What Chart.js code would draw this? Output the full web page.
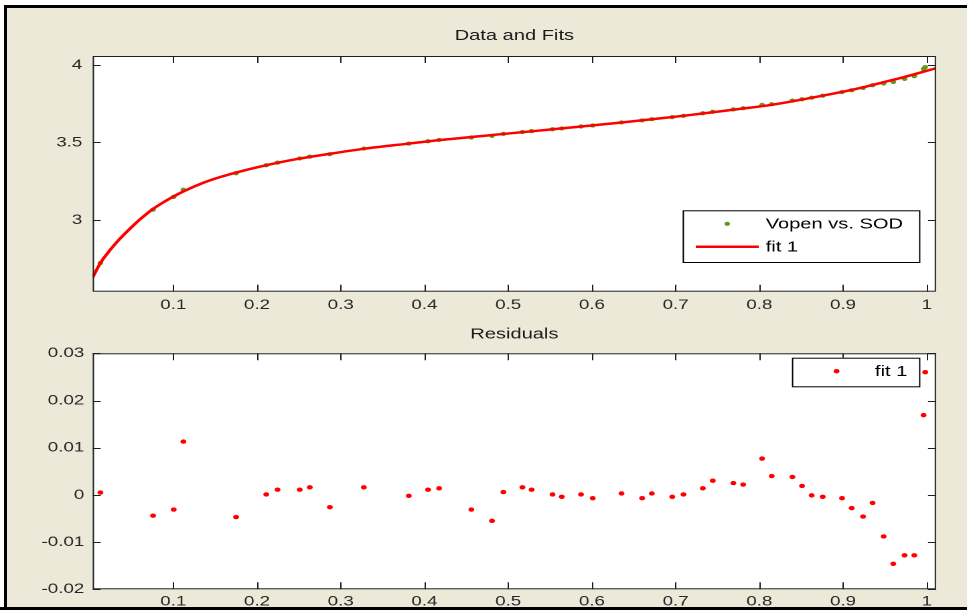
<!DOCTYPE html>
<html>
<head>
<meta charset="utf-8">
<title>Data and Fits</title>
<script src="https://cdn.jsdelivr.net/npm/chart.js@4.4.0/dist/chart.umd.min.js"></script>
<style>
  html, body { margin: 0; padding: 0; background: #fff; }
  body { width: 967px; height: 610px; position: relative; overflow: hidden; }
  #panel {
    position: absolute; left: 4px; top: 5px; right: 0; bottom: 0;
    background: #ece9d8; border-left: 3px solid #000; border-top: 3px solid #000;
  }
  /* the figure is laid out narrow and stretched sideways, like the original window */
  canvas { position: absolute; left: 0; transform-origin: 0 0; transform: scaleX(1.3393); }
  #fitCanvas { top: 0; }
  #residCanvas { top: 320px; }
  #bottomEdge { position: absolute; left: 0; right: 0; top: 607px; height: 3px; background: #000; }
</style>
</head>
<body>
<div id="panel"></div>
<canvas id="fitCanvas" width="722" height="320"></canvas>
<canvas id="residCanvas" width="722" height="290"></canvas>
<div id="bottomEdge"></div>
<script>
// SOD samples and the measured open-circuit voltage
const sodX = [0.0129, 0.0758, 0.1005, 0.1120, 0.1750, 0.2110, 0.2245, 0.2510, 0.2630, 0.2870,
  0.3276, 0.3813, 0.4043, 0.4175, 0.4560, 0.4807, 0.4943, 0.5170, 0.5280, 0.5530,
  0.5640, 0.5870, 0.6010, 0.6354, 0.6600, 0.6716, 0.6960, 0.7094, 0.7325, 0.7444,
  0.7690, 0.7807, 0.8033, 0.8148, 0.8395, 0.8510, 0.8625, 0.8757, 0.8988, 0.9103,
  0.9239, 0.9353, 0.9485, 0.9600, 0.9735, 0.9851, 0.9962, 0.9982];
const vopen = [2.7225, 3.0666, 3.1489, 3.1953, 3.3013, 3.3531, 3.3701, 3.3971, 3.4086, 3.4244,
  3.4606, 3.4928, 3.5081, 3.5164, 3.5319, 3.5425, 3.5556, 3.5676, 3.5731, 3.5851,
  3.5906, 3.6031, 3.6093, 3.6293, 3.6423, 3.6503, 3.6636, 3.6721, 3.6884, 3.6980,
  3.7135, 3.7212, 3.7427, 3.7470, 3.7698, 3.7789, 3.7889, 3.8016, 3.8253, 3.8372,
  3.8514, 3.8693, 3.8802, 3.8904, 3.9102, 3.9282, 3.9739, 3.9860];
const residuals = [0.0005, -0.0044, -0.0031, 0.0113, -0.0047, 0.0001, 0.0011, 0.0011, 0.0016, -0.0026,
  0.0016, -0.0002, 0.0011, 0.0014, -0.0031, -0.0055, 0.0006, 0.0016, 0.0011, 0.0001,
  -0.0004, 0.0001, -0.0007, 0.0003, -0.0007, 0.0003, -0.0004, 0.0001, 0.0014, 0.0030,
  0.0025, 0.0022, 0.0077, 0.0040, 0.0038, 0.0019, -0.0001, -0.0004, -0.0007, -0.0028,
  -0.0046, -0.0017, -0.0088, -0.0146, -0.0128, -0.0128, 0.0169, 0.0260];

// fitted curve "fit 1"
const fitX = [0.0037, 0.0129, 0.0185, 0.0325, 0.0504, 0.0603, 0.0758, 0.0900, 0.1005, 0.1120,
  0.1340, 0.1537, 0.1750, 0.2000, 0.2245, 0.2510, 0.2870, 0.3276, 0.3813, 0.4175,
  0.4560, 0.4943, 0.5280, 0.5640, 0.6010, 0.6354, 0.6716, 0.7094, 0.7444, 0.7807,
  0.8148, 0.8510, 0.8757, 0.8988, 0.9239, 0.9485, 0.9735, 0.9962, 1.0111];
const fitY = [2.630, 2.722, 2.765, 2.857, 2.955, 3.004, 3.071, 3.120, 3.152, 3.184,
  3.236, 3.273, 3.306, 3.340, 3.369, 3.396, 3.427, 3.459, 3.493, 3.515,
  3.535, 3.555, 3.572, 3.591, 3.610, 3.629, 3.650, 3.672, 3.695, 3.719,
  3.743, 3.777, 3.802, 3.826, 3.856, 3.889, 3.923, 3.957, 3.979];

// axis ticks
const xTicks = [0.1, 0.2, 0.3, 0.4, 0.5, 0.6, 0.7, 0.8, 0.9, 1];
const fitTicks = [3, 3.5, 4];
const residTicks = [-0.02, -0.01, 0, 0.01, 0.02, 0.03];

const FONT = "'Liberation Sans', Arial, sans-serif";
const RED = '#ff0000';
const GREEN = '#5c9e18';

// white plot box with inward ticks on all four sides
const matlabAxes = {
  id: 'matlabAxes',
  beforeDraw(chart) {
    const { ctx, chartArea: a } = chart;
    ctx.save();
    ctx.fillStyle = '#fff';
    ctx.fillRect(a.left, a.top, a.right - a.left, a.bottom - a.top);
    ctx.restore();
  },
  afterDatasetsDraw(chart) {
    const { ctx, chartArea: a, scales } = chart;
    ctx.save();
    ctx.strokeStyle = '#1e1e1e';
    ctx.lineWidth = 1;
    ctx.beginPath();
    scales.x.ticks.forEach(t => {
      const px = Math.round(scales.x.getPixelForValue(t.value)) + 0.5;
      ctx.moveTo(px, a.bottom); ctx.lineTo(px, a.bottom - 7);
      ctx.moveTo(px, a.top); ctx.lineTo(px, a.top + 7);
    });
    scales.y.ticks.forEach(t => {
      const py = Math.round(scales.y.getPixelForValue(t.value)) + 0.5;
      ctx.moveTo(a.left, py); ctx.lineTo(a.left + 6, py);
      ctx.moveTo(a.right, py); ctx.lineTo(a.right - 6, py);
    });
    ctx.stroke();
    ctx.strokeRect(a.left + 0.5, a.top + 0.5, a.right - a.left - 1, a.bottom - a.top - 1);
    ctx.restore();
  }
};

// boxed legend drawn inside the plot
const boxLegend = {
  id: 'boxLegend',
  afterDraw(chart, args, opts) {
    const { ctx } = chart;
    const b = opts.box;
    ctx.save();
    ctx.fillStyle = '#fff';
    ctx.fillRect(b.left, b.top, b.width, b.height);
    ctx.strokeStyle = '#000';
    ctx.lineWidth = 1;
    ctx.strokeRect(b.left + 0.5, b.top + 0.5, b.width, b.height);
    ctx.font = '15px ' + FONT;
    ctx.textBaseline = 'middle';
    ctx.textAlign = 'left';
    chart.data.datasets.forEach((ds, i) => {
      const y = b.top + 13.5 + i * 23;
      const sx = b.left + 33.3;
      if (ds.showLine) {
        ctx.strokeStyle = ds.borderColor;
        ctx.lineWidth = ds.borderWidth;
        ctx.beginPath();
        ctx.moveTo(sx - 23.5, y); ctx.lineTo(sx + 23.5, y);
        ctx.stroke();
      } else {
        ctx.fillStyle = ds.backgroundColor;
        ctx.beginPath();
        ctx.arc(sx, y, ds.pointRadius, 0, Math.PI * 2);
        ctx.fill();
      }
      ctx.fillStyle = '#000';
      ctx.fillText(ds.label, b.left + 62, y + 0.5);
    });
    ctx.restore();
  }
};

function axisX(height, padding) {
  return {
    type: 'linear', min: 0.0037, max: 1.0111,
    afterBuildTicks: axis => { axis.ticks = xTicks.map(v => ({ value: v })); },
    afterFit: axis => { axis.height = height; },
    grid: { display: false, drawTicks: false },
    border: { display: false },
    ticks: { color: '#262626', font: { family: FONT, size: 14 }, padding: padding,
      maxRotation: 0, autoSkip: false, callback: v => String(v) }
  };
}

function axisY(min, max, tickVals, padding) {
  return {
    type: 'linear', min: min, max: max,
    afterBuildTicks: axis => { axis.ticks = tickVals.map(v => ({ value: v })); },
    afterFit: axis => { axis.width = 69.2; },
    grid: { display: false, drawTicks: false },
    border: { display: false },
    ticks: { color: '#262626', font: { family: FONT, size: 14 }, padding: padding,
      autoSkip: false, callback: v => String(v) }
  };
}

const titleStyle = (text, top, bottom) => ({
  display: true, text: text, fullSize: false, color: '#1a1a1a',
  font: { family: FONT, size: 15, weight: 'normal' },
  padding: { top: top, bottom: bottom }
});

// top: data and fit
new Chart(document.getElementById('fitCanvas'), {
  type: 'scatter',
  data: {
    datasets: [{
      label: 'Vopen vs. SOD',
      data: sodX.map((x, i) => ({ x: x, y: vopen[i] })),
      backgroundColor: GREEN, borderWidth: 0, pointRadius: 2.1, order: 2
    }, {
      label: 'fit 1',
      data: fitX.map((x, i) => ({ x: x, y: fitY[i] })),
      showLine: true, borderColor: RED, borderWidth: 2.5, pointRadius: 0,
      cubicInterpolationMode: 'monotone', order: 1
    }]
  },
  options: {
    responsive: false, animation: false, events: [], devicePixelRatio: 2,
    layout: { padding: { top: 0, left: 0, right: 23.1, bottom: 0 } },
    scales: { x: axisX(28.3, 5), y: axisY(2.537, 4.058, fitTicks, 7.8) },
    plugins: {
      legend: { display: false }, tooltip: { enabled: false },
      title: titleStyle('Data and Fits', 27, 11),
      boxLegend: { box: { left: 509.7, top: 210.3, width: 176.5, height: 51.7 } }
    }
  },
  plugins: [matlabAxes, boxLegend]
});

// bottom: residuals
new Chart(document.getElementById('residCanvas'), {
  type: 'scatter',
  data: {
    datasets: [{
      label: 'fit 1',
      data: sodX.map((x, i) => ({ x: x, y: residuals[i] })),
      backgroundColor: RED, borderWidth: 0, pointRadius: 2.2
    }]
  },
  options: {
    responsive: false, animation: false, events: [], devicePixelRatio: 2,
    layout: { padding: { top: 0, left: 0, right: 23.1, bottom: 0 } },
    scales: { x: axisX(20.7, 4), y: axisY(-0.02, 0.03, residTicks, 6.3) },
    plugins: {
      legend: { display: false }, tooltip: { enabled: false },
      title: titleStyle('Residuals', 5.5, 9.8),
      boxLegend: { box: { left: 591.3, top: 37.7, width: 94.9, height: 28.6 } }
    }
  },
  plugins: [matlabAxes, boxLegend]
});
</script>
</body>
</html>
